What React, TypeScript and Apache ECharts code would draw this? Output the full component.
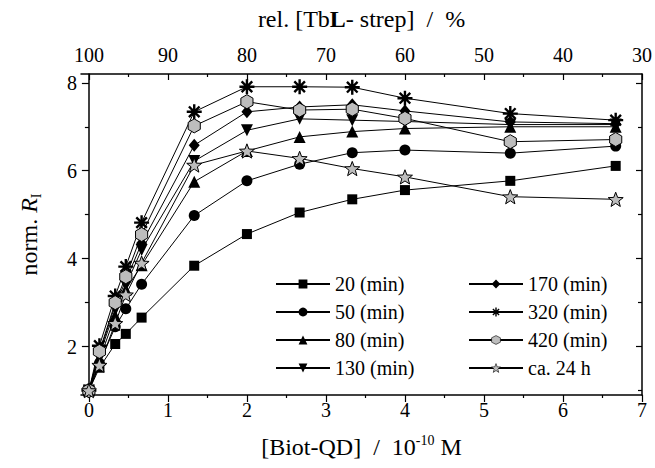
import React, { useEffect, useRef } from "react";
import * as echarts from "echarts";

// ---- data ----
const xValues = [0, 0.133, 0.333, 0.467, 0.667, 1.333, 2.0, 2.667, 3.333, 4.0, 5.333, 6.667];
const seriesNames = ["20 (min)", "50 (min)", "80 (min)", "130 (min)", "170 (min)", "320 (min)", "420 (min)", "ca. 24 h"];
const s20 = [1.0, 1.52, 2.06, 2.29, 2.66, 3.84, 4.56, 5.05, 5.35, 5.56, 5.77, 6.11];
const s50 = [1.0, 1.62, 2.45, 2.86, 3.42, 4.98, 5.77, 6.15, 6.41, 6.47, 6.40, 6.56];
const s80 = [1.0, 1.70, 2.70, 3.30, 3.85, 5.75, 6.45, 6.77, 6.89, 6.96, 7.00, 7.00];
const s130 = [1.0, 1.80, 2.85, 3.40, 4.20, 6.22, 6.92, 7.18, 7.15, 7.12, 7.05, 7.05];
const s170 = [1.0, 1.85, 2.95, 3.50, 4.35, 6.58, 7.34, 7.45, 7.50, 7.36, 7.11, 7.07];
const s320 = [1.0, 2.02, 3.15, 3.82, 4.82, 7.34, 7.91, 7.91, 7.90, 7.65, 7.30, 7.15];
const s420 = [1.0, 1.89, 3.00, 3.59, 4.55, 7.02, 7.57, 7.38, 7.40, 7.19, 6.66, 6.71];
const s24h = [1.0, 1.58, 2.53, 3.18, 3.90, 6.13, 6.45, 6.28, 6.05, 5.86, 5.41, 5.35];

const bottomMajor = [0, 1, 2, 3, 4, 5, 6, 7];
const bottomMinor = [0.5, 1.5, 2.5, 3.5, 4.5, 5.5, 6.5];
const topMajor = [30, 40, 50, 60, 70, 80, 90, 100];
const topMinor = [35, 45, 55, 65, 75, 85, 95];
const yMajor = [2, 4, 6, 8];
const yMinor = [1, 3, 5, 7];

// ---- symbols ----
const FF = "'Liberation Serif', 'Times New Roman', serif";
const GRAY = "#bdbdbd";

function starPath(): string {
  const pts: string[] = [];
  for (let i = 0; i < 10; i++) {
    const r = i % 2 ? 0.42 : 1;
    const a = -Math.PI / 2 + (i * Math.PI) / 5;
    pts.push(`${(r * Math.cos(a)).toFixed(3)},${(r * Math.sin(a)).toFixed(3)}`);
  }
  return "path://M" + pts.join(" L") + " Z";
}

function asteriskPath(): string {
  const L = 1, w = 0.16;
  const parts: string[] = [];
  for (const deg of [90, 0, 45, 135]) {
    const t = (deg * Math.PI) / 180;
    const dx = Math.cos(t), dy = Math.sin(t);
    const nx = -Math.sin(t), ny = Math.cos(t);
    const p = (a: number, b: number) => `${(a * L * dx + b * w * nx).toFixed(3)},${(a * L * dy + b * w * ny).toFixed(3)}`;
    parts.push(`M${p(1, 1)} L${p(1, -1)} L${p(-1, -1)} L${p(-1, 1)} Z`);
  }
  return "path://" + parts.join(" ");
}

const hexPath = "path://M0,-1 L0.866,-0.5 L0.866,0.5 L0,1 L-0.866,0.5 L-0.866,-0.5 Z";

const axisLineStyle = { color: "#000", width: 1.5 };
const tickLineStyle = { color: "#000", width: 1.2 };

export default function App() {
  const ref = useRef<HTMLDivElement>(null);
  useEffect(() => {
    if (!ref.current) return;
    const chart = echarts.init(ref.current, null, { renderer: "svg" });

    const mk = (name: string, vals: number[], symbol: string, size: number | number[], fill: string, rotate = 0) => ({
      type: "line",
      name,
      data: xValues.map((x, i) => [x, vals[i]]),
      xAxisIndex: 0,
      yAxisIndex: 0,
      symbol,
      symbolSize: size,
      symbolRotate: rotate,
      symbolKeepAspect: true,
      showSymbol: true,
      clip: false,
      lineStyle: { color: "#000", width: 1 },
      itemStyle: { color: fill, borderColor: "#000", borderWidth: fill === "#000" ? 0 : 1 },
      emphasis: { disabled: true },
    });

    const series = [
      mk(seriesNames[0], s20, "rect", 10, "#000"),
      mk(seriesNames[1], s50, "circle", 11, "#000"),
      mk(seriesNames[2], s80, "triangle", 12, "#000"),
      mk(seriesNames[3], s130, "triangle", 12, "#000", 180),
      mk(seriesNames[4], s170, "diamond", [11, 13], "#000"),
      mk(seriesNames[5], s320, asteriskPath(), 15, "#000"),
      mk(seriesNames[6], s420, hexPath, 14, GRAY),
      mk(seriesNames[7], s24h, starPath(), 15, GRAY),
    ];

    const labelFont = { fontFamily: FF, fontSize: 20, color: "#000" };
    const legendBase = {
      orient: "vertical",
      itemWidth: 54,
      itemHeight: 11,
      itemGap: 8,
      textStyle: { fontFamily: FF, fontSize: 20, color: "#000" },
      selectedMode: false,
    };
    const legendItem = (name: string) =>
      name === seriesNames[6] || name === seriesNames[7]
        ? { name, itemStyle: { borderWidth: 0.6 } }
        : { name };

    chart.setOption({
      animation: false,
      backgroundColor: "#fff",
      grid: { left: 81, right: 13, top: 74, bottom: 73, containLabel: false },
      legend: [
        { ...legendBase, left: 270, top: 269, data: seriesNames.slice(0, 4).map(legendItem) },
        { ...legendBase, left: 463, top: 269, data: seriesNames.slice(4).map(legendItem) },
      ],
      xAxis: [
        {
          type: "value", position: "bottom", min: -0.1, max: 7,
          axisLine: { show: true, lineStyle: axisLineStyle },
          axisTick: { show: true, inside: false, length: 7, lineStyle: tickLineStyle, customValues: bottomMajor },
          axisLabel: { ...labelFont, margin: 5, customValues: bottomMajor },
          splitLine: { show: false },
          name: "{n|[Biot-QD]  /  10}{s|-10}{n| M}",
          nameLocation: "middle",
          nameGap: 38,
          nameTextStyle: {
            rich: {
              n: { fontFamily: FF, fontSize: 24, color: "#000", lineHeight: 28 },
              s: { fontFamily: FF, fontSize: 14, color: "#000", verticalAlign: "top", lineHeight: 16 },
            },
          },
        },
        {
          type: "value", position: "bottom", min: -0.1, max: 7,
          axisLine: { show: false },
          axisTick: { show: true, inside: false, length: 3, lineStyle: tickLineStyle, customValues: bottomMinor },
          axisLabel: { show: false },
          splitLine: { show: false },
        },
        {
          type: "value", position: "top", min: 30, max: 101, inverse: true,
          axisLine: { show: true, lineStyle: axisLineStyle },
          axisTick: { show: true, inside: true, length: 6, lineStyle: tickLineStyle, customValues: topMajor },
          axisLabel: { ...labelFont, margin: 9, customValues: topMajor },
          splitLine: { show: false },
          name: "{n|rel. [Tb}{b|L}{n|- strep]  /  %}",
          nameLocation: "middle",
          nameGap: 43,
          nameTextStyle: {
            rich: {
              n: { fontFamily: FF, fontSize: 24, color: "#000" },
              b: { fontFamily: FF, fontSize: 24, color: "#000", fontWeight: "bold" },
            },
          },
        },
        {
          type: "value", position: "top", min: 30, max: 101, inverse: true,
          axisLine: { show: false },
          axisTick: { show: true, inside: true, length: 3, lineStyle: tickLineStyle, customValues: topMinor },
          axisLabel: { show: false },
          splitLine: { show: false },
        },
      ],
      yAxis: [
        {
          type: "value", position: "left", min: 0.9, max: 8.2,
          axisLine: { show: true, lineStyle: axisLineStyle },
          axisTick: { show: true, inside: false, length: 7, lineStyle: tickLineStyle, customValues: yMajor },
          axisLabel: { ...labelFont, margin: 4, customValues: yMajor },
          splitLine: { show: false },
          name: "{a|norm. }{b|R}{c|I}",
          nameLocation: "middle",
          nameRotate: 90,
          nameGap: 38,
          nameTextStyle: {
            rich: {
              a: { fontFamily: FF, fontSize: 24, color: "#000", lineHeight: 28 },
              b: { fontFamily: FF, fontSize: 24, color: "#000", fontStyle: "italic", lineHeight: 28 },
              c: { fontFamily: FF, fontSize: 14, color: "#000", verticalAlign: "bottom", lineHeight: 14 },
            },
          },
        },
        {
          type: "value", position: "left", min: 0.9, max: 8.2,
          axisLine: { show: false },
          axisTick: { show: true, inside: false, length: 4, lineStyle: tickLineStyle, customValues: yMinor },
          axisLabel: { show: false },
          splitLine: { show: false },
        },
        {
          type: "value", position: "right", min: 0.9, max: 8.2,
          axisLine: { show: true, lineStyle: axisLineStyle },
          axisTick: { show: true, inside: true, length: 6, lineStyle: tickLineStyle, customValues: yMajor },
          axisLabel: { show: false },
          splitLine: { show: false },
        },
        {
          type: "value", position: "right", min: 0.9, max: 8.2,
          axisLine: { show: false },
          axisTick: { show: true, inside: true, length: 4, lineStyle: tickLineStyle, customValues: yMinor },
          axisLabel: { show: false },
          splitLine: { show: false },
        },
      ],
      series,
    });

    return () => chart.dispose();
  }, []);

  return <div ref={ref} style={{ position: "absolute", left: 0, top: 0, width: 655, height: 468 }} />;
}
